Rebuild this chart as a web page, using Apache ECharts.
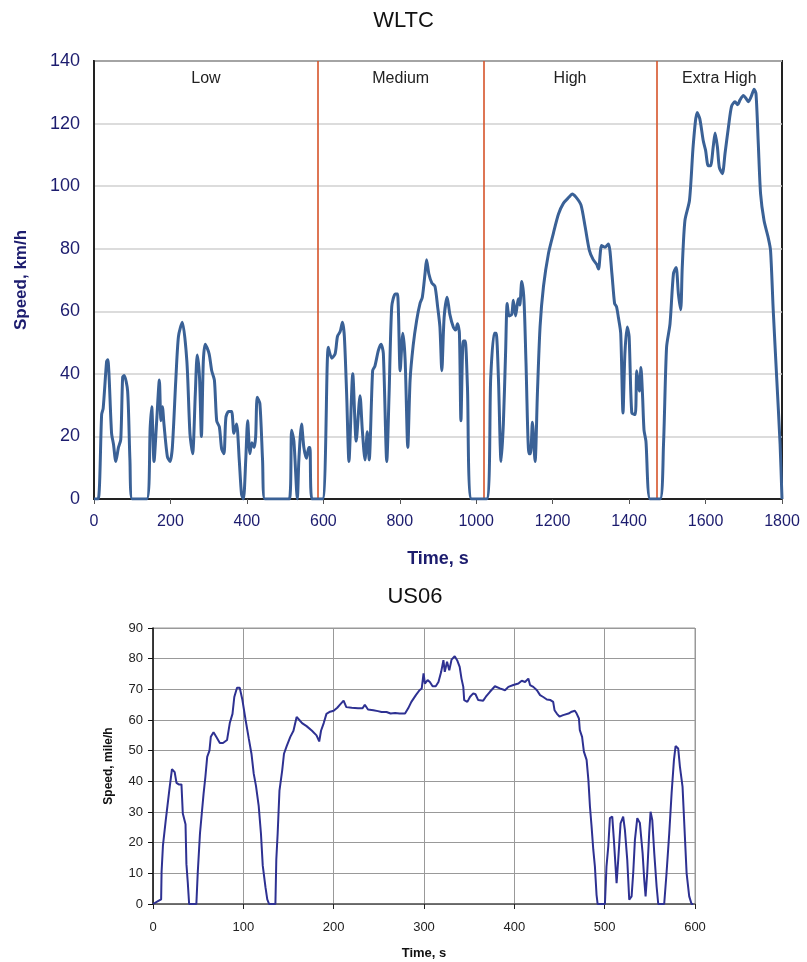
<!DOCTYPE html>
<html>
<head>
<meta charset="utf-8">
<script src="https://cdn.jsdelivr.net/npm/echarts@6/dist/echarts.min.js"></script>
<style>html,body{margin:0;padding:0;background:#fff}#c{width:807px;height:962px}</style>
</head>
<body>
<div id="c"></div>
<script>
// ---- WLTC data: [time s, speed km/h]
const wltcPoints = [
[0,0],[11,0],[20,27],[24,29],[33,44],[36,44.5],[46,21],[51,17.5],[57,12],[64,16.5],[70,19],[75,39],[79,39.5],[88,34.5],[94,12.5],[100,0],
[138,0],[147,23],[151,29.5],[157,12],[164,25],[171,38],[175,25],[179,29.5],[183,24],[192,13.5],[199,12],[205,16.5],[214,38],[221,52],[231,56.5],
[243,44],[251,21],[258,14.5],[265,33.5],[270,46],[276,39],[281,20],[286,44],[291,49.5],[301,46.5],[308,41],[315,38],[321,25],[328,23],[334,16],
[340,14.5],[345,26],[352,28],[360,28],[366,21],[373,24],[380,12.5],[386,1.5],[391,0],[397,12.5],[402,25],[408,14.5],[413,18],[419,16.5],[423,20],
[427,32.5],[434,30.5],[441,12.5],[447,0],[511,0],[517,22],[523,18.5],[532,0],[536,12.5],[543,24],[549,16.5],[556,13],[562,16.5],[565,16.5],[570,0],
[598,0],[613,48.5],[622,45],[631,46.5],[637,52],[644,53.5],[650,56.5],[655,52],[661,33.5],[667,12],[677,40],[686,18.5],[696,33],[702,22],[709,12.5],
[715,21.5],[720,12.5],[729,41],[735,42.5],[744,47.5],[751,49.5],[757,46.5],[766,12],[772,33.5],[779,61.5],[788,65.5],[794,65.5],[801,41],[808,53],
[814,44.5],[821,16.5],[827,38],[835,49],[844,57],[853,62.5],[859,64.5],[866,72],[870,76.5],[876,72],[884,69],[892,68],[899,61.5],[905,55],[910,41],
[916,58],[924,64.5],[931,59],[940,55],[946,54],[951,56],[956,53],[960,25],[966,50.5],[971,50.5],[977,36],[988,0],
[1027,0],[1038,39],[1047,53],[1052,53],[1058,39],[1065,12],[1071,24],[1077,47.5],[1081,62.5],[1086,58.5],[1093,59],[1097,63.5],[1103,58.5],[1110,64],
[1114,62],[1119,69.5],[1125,63.5],[1130,44.5],[1138,14.5],[1142,14.5],[1147,24.5],[1154,12],[1160,33.5],[1167,55],[1176,68],[1189,78.5],[1202,85],
[1215,91],[1228,94.5],[1243,96.5],[1251,97.5],[1261,96.5],[1274,94],[1285,87],[1296,79.5],[1306,76.5],[1315,75],[1320,73.5],[1328,81],[1337,80.5],
[1346,81.5],[1355,72],[1362,62.5],[1367,61.5],[1372,58],[1378,53],[1384,27.5],[1389,46.5],[1395,55],[1400,52],[1407,27.5],[1416,27],[1420,41],
[1427,34.5],[1431,42],[1435,33.5],[1439,22],[1444,18.5],[1455,0],
[1481,0],[1490,17.5],[1498,48.5],[1507,56],[1516,72],[1523,74],[1529,65.5],[1535,60.5],[1539,74],[1546,89],[1558,95.5],[1568,113.5],[1578,123.5],
[1585,121.5],[1594,114.5],[1600,111.5],[1607,106.5],[1613,106.5],[1620,112.5],[1625,117],[1631,112.5],[1636,106],[1644,104],[1651,110.5],[1660,119],
[1668,125.5],[1677,127],[1684,126],[1690,127.5],[1699,129],[1706,128],[1712,127],[1719,128.5],[1727,131],[1732,129.5],[1738,113.5],[1744,97.5],
[1753,89],[1764,83.5],[1770,79.5],[1777,60.5],[1786,39],[1795,17.5],[1800,0]
];
const wltcPhaseNames = ['Low','Medium','High','Extra High'];
const wltcPhaseBounds = [0, 586, 1019, 1472, 1800];

// ---- US06 data: [time s, speed mile/h]
const us06Points = [
[0,0],[6,1],[9,1.5],[9.5,10.5],[11,19],[14,27],[16,32],[18,37],[21,44],[24,43],[26,39.5],[28.5,39],[31.5,39],[33,29.5],[36,26],[37,13],[38.5,7],[40,0],
[48,0],[49.5,10],[52,23],[54,29.5],[56,36],[58,41.5],[60,48],[62.5,50],[64,54.5],[67,56],[70,54.5],[74,52.5],[77.5,52.5],[82,53.5],[85,59],[88,62],
[90,67.5],[93,70.5],[96,70.5],[99,66.5],[102.5,60],[106,54],[109,49],[111.5,42.5],[114,38.5],[117,32],[119.5,23],[121.5,12.5],[124.5,5.5],[126.5,1.5],
[128.5,0],[135.5,0],[136.5,14.5],[138,23],[140,37],[143,43.5],[145,49],[148,51.5],[152,54.5],[155.5,56.5],[159,61],[162,60],[165,59],[170,58],
[176,56.5],[181,55],[184,53],[186,56.5],[189,59],[192,62],[196,62.7],[200,63],[204,64],[207,65],[211,66.3],[214,64.2],[220,64],[227,63.8],[232,63.8],
[234.5,65],[238,63.4],[244,63.2],[249,62.9],[253,62.6],[258.5,62.6],[263,62.1],[268,62.3],[273,62.1],[279,62.1],[282.5,63.8],[286,65.9],[291,68.1],
[295,69.7],[297.5,70.3],[299.5,75.2],[301,71.9],[304,73],[306.5,72.4],[309.5,71],[313,71],[316,72.4],[319,75.7],[321.5,79.5],[323,75.7],[325.5,79],
[328,76.2],[330.5,79.7],[334,80.8],[337,79.3],[339.5,77.3],[341.5,73.5],[343.5,70.8],[344.5,66.5],[348,65.9],[351,67.6],[354.5,68.7],[357,68.4],
[360,66.5],[365.5,66.3],[368.5,67.6],[373,69.2],[378.5,71],[384,70.3],[389.7,69.7],[393.4,70.8],[398.9,71.4],[404.5,71.9],[408.2,72.8],[411.9,72.4],
[415.5,73.5],[417.4,71.4],[421,70.8],[425,69.7],[428.5,68.1],[432,67.5],[436,66.7],[440,66.5],[443,65.9],[444.5,63.2],[447,62.1],[450,61.1],
[454,61.6],[460,62.1],[463.5,62.7],[467,63],[469,62.1],[471.5,60.5],[472.5,56.7],[475,54.5],[477,49.7],[480,47],[482,40.4],[483.7,31.8],[485.5,25.3],
[487.4,17.7],[489.2,12.2],[491,3],[492.2,0],[500.3,0],[502,12.2],[504,18.8],[505.8,28],[508.4,28.5],[510.2,20.9],[513.2,6.8],[515,14.4],[517.6,26.3],
[520.5,28.5],[522.4,24.2],[525,14.4],[527.2,1.4],[529.8,2.5],[531.6,10.1],[533.5,20.9],[536.1,28],[539,26.4],[542,16.6],[543.8,7.9],[545.3,2.5],
[547.1,10.1],[549.3,23.1],[550.8,30.1],[552.7,27.4],[554.9,16.6],[557.5,5.7],[559.3,0],[565.9,0],[568.5,10.1],[571.5,23.1],[574.1,36.1],[576.7,47],
[578.5,51.5],[581.4,50.7],[583.3,44.8],[586.2,38.3],[588.8,22],[590.7,10.1],[593.6,2.5],[596.2,0],[598,0]
];

const NAVY = '#1c1c6e';
const FONT = 'Liberation Sans, Arial, sans-serif';
const plain = v => String(v);

const phaseAreas = wltcPhaseNames.map((n, i) => [
  { name: n, xAxis: wltcPhaseBounds[i] },
  { xAxis: wltcPhaseBounds[i + 1] }
]);
const phaseLines = wltcPhaseBounds.slice(1, -1).map(b => ({ xAxis: b }));

const chart = echarts.init(document.getElementById('c'), null, { renderer: 'canvas' });
chart.setOption({
  animation: false,
  backgroundColor: '#fff',
  textStyle: { fontFamily: FONT },
  title: [
    { text: 'WLTC', left: 'center', top: 5, textStyle: { fontSize: 22, fontWeight: 'normal', color: '#111', fontFamily: FONT } },
    { text: 'US06', left: 410, textAlign: 'center', top: 581, textStyle: { fontSize: 22, fontWeight: 'normal', color: '#111', fontFamily: FONT } }
  ],
  grid: [
    { left: 94, top: 61, width: 688, height: 438, show: true, borderColor: '#222', borderWidth: 2, backgroundColor: '#fff' },
    { left: 153, top: 628, width: 542, height: 276, show: true, borderColor: '#999', borderWidth: 1, backgroundColor: '#fff' }
  ],
  xAxis: [
    {
      gridIndex: 0, type: 'value', min: 0, max: 1800, interval: 200,
      name: 'Time, s', nameLocation: 'middle', nameGap: 51,
      nameTextStyle: { fontSize: 18, fontWeight: 'bold', color: NAVY },
      axisLine: { show: true, lineStyle: { color: '#222', width: 2 } },
      axisTick: { show: true, inside: false, length: 5, lineStyle: { color: '#555' } },
      axisLabel: { fontSize: 16, color: NAVY, margin: 15, formatter: plain },
      splitLine: { show: false }
    },
    {
      gridIndex: 1, type: 'value', min: 0, max: 600, interval: 100,
      name: 'Time, s', nameLocation: 'middle', nameGap: 43,
      nameTextStyle: { fontSize: 13, fontWeight: 'bold', color: '#111' },
      axisLine: { show: true, lineStyle: { color: '#555', width: 1.5 } },
      axisTick: { show: true, inside: false, length: 5, lineStyle: { color: '#222' } },
      axisLabel: { fontSize: 13, color: '#222', margin: 17, formatter: plain },
      splitLine: { show: true, lineStyle: { color: '#999', width: 1 } }
    }
  ],
  yAxis: [
    {
      gridIndex: 0, type: 'value', min: 0, max: 140, interval: 20,
      name: 'Speed, km/h', nameLocation: 'middle', nameGap: 64, nameRotate: 90,
      nameTextStyle: { fontSize: 17, fontWeight: 'bold', color: NAVY },
      axisLine: { show: true, lineStyle: { color: '#222', width: 2 } },
      axisTick: { show: false },
      axisLabel: { fontSize: 18, color: NAVY, margin: 14, formatter: plain },
      splitLine: { show: true, lineStyle: { color: '#d0d0d0', width: 1.5 } }
    },
    {
      gridIndex: 1, type: 'value', min: 0, max: 90, interval: 10,
      name: 'Speed, mile/h', nameLocation: 'middle', nameGap: 38, nameRotate: 90,
      nameTextStyle: { fontSize: 12, fontWeight: 'bold', color: '#111' },
      axisLine: { show: true, lineStyle: { color: '#111', width: 1.5 } },
      axisTick: { show: true, inside: false, length: 5, lineStyle: { color: '#111' } },
      axisLabel: { fontSize: 13, color: '#222', margin: 10, formatter: plain },
      splitLine: { show: true, lineStyle: { color: '#999', width: 1 } }
    }
  ],
  series: [
    {
      type: 'line', xAxisIndex: 0, yAxisIndex: 0, data: wltcPoints,
      showSymbol: false, smooth: 0.25, z: 3,
      lineStyle: { color: '#3a6196', width: 3 },
      markLine: {
        silent: true, symbol: 'none', label: { show: false }, z: 2,
        lineStyle: { color: '#d6542a', width: 1.6, type: 'solid' },
        data: phaseLines
      },
      markArea: {
        silent: true, itemStyle: { color: 'rgba(0,0,0,0)' },
        label: { show: true, position: 'insideTop', distance: 10, fontSize: 16, color: '#222', fontFamily: FONT },
        data: phaseAreas
      }
    },
    {
      type: 'line', xAxisIndex: 1, yAxisIndex: 1, data: us06Points,
      showSymbol: false, smooth: false,
      lineStyle: { color: '#2e3192', width: 2 }
    }
  ]
});
</script>
</body>
</html>
